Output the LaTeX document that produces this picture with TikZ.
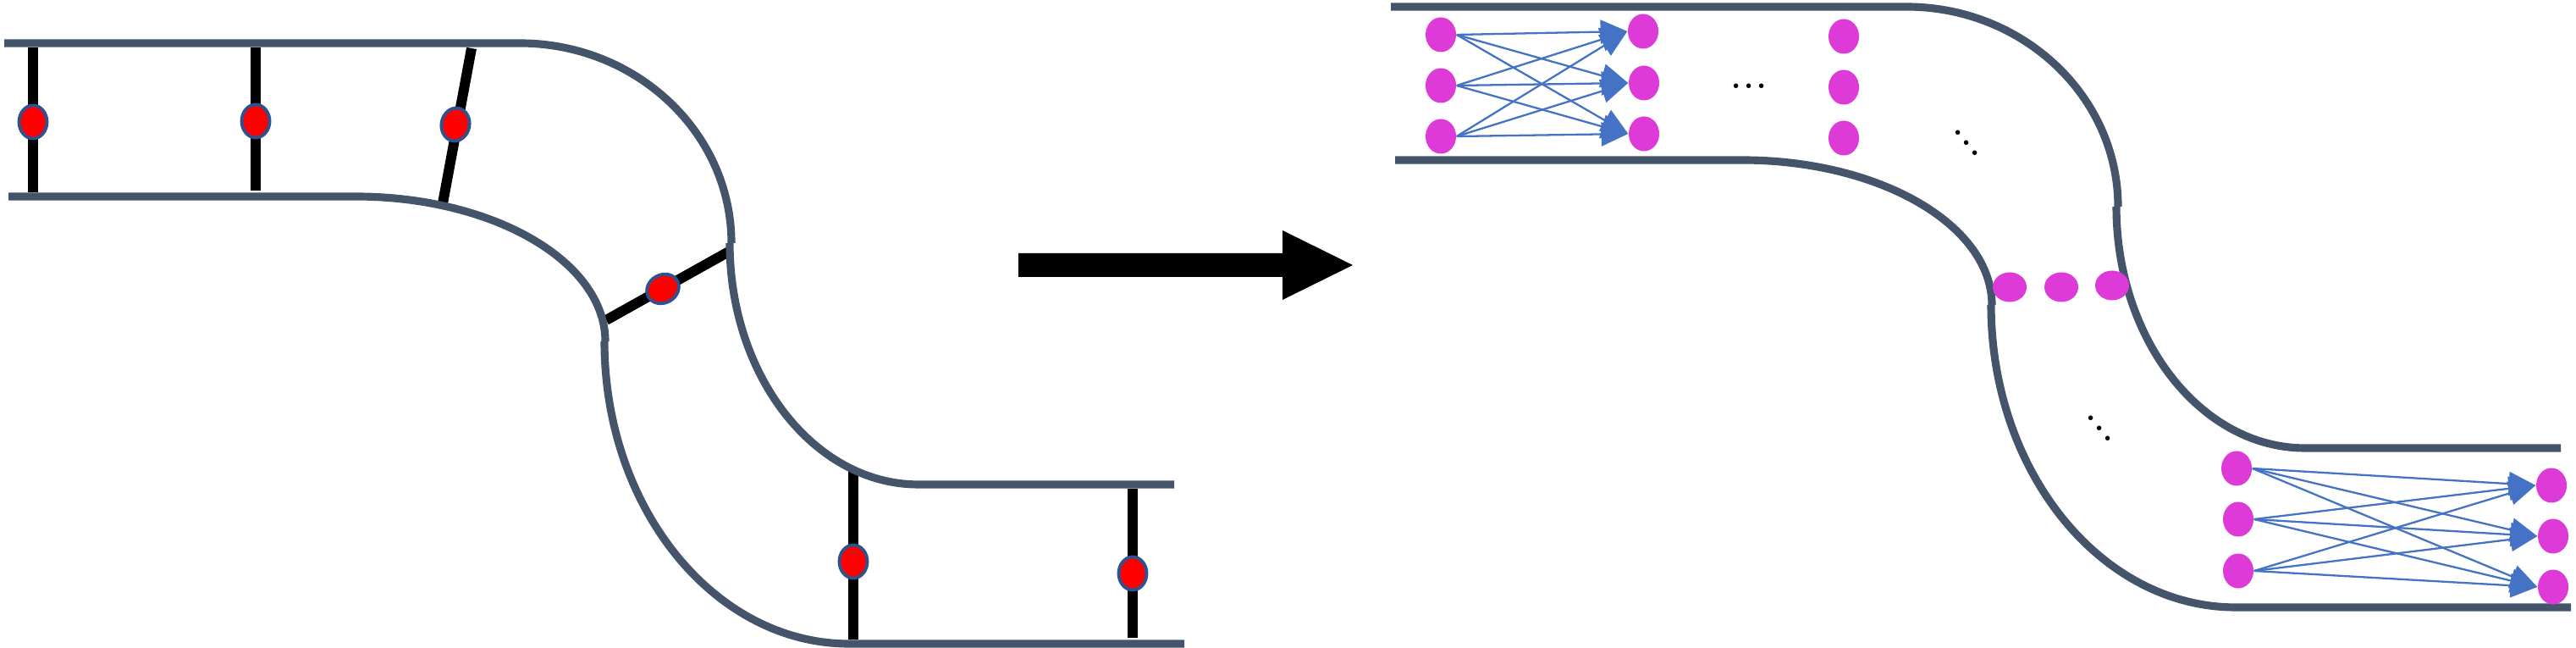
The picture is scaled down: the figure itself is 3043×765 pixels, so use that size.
\documentclass[tikz,border=0pt]{standalone}
\usetikzlibrary{arrows.meta,shapes.geometric}
\definecolor{slate}{HTML}{44546A}
\definecolor{rimblue}{HTML}{2F528F}
\definecolor{netblue}{HTML}{4472C4}
\definecolor{dotpink}{HTML}{DD3AD8}
\newcommand\drawchannel{%
  \draw[wall] (5,51) -- (614,51) .. controls (752,51) and (864,157) .. (864,287);
  \draw[wall] (862,287) .. controls (862,444) and (962,572) .. (1085,572) -- (1387,572);
  \draw[wall] (10,232) -- (420,232) .. controls (583,232) and (715,309) .. (715,403);
  \draw[wall] (714,403) .. controls (714,600) and (844,760) .. (1003,760) -- (1399,760);
}
\newcommand\hdotsrow{\bfseries .\kern1.17pt.\kern1.17pt.}
\newcommand\ddotsrow{\bfseries .\kern-0.43pt\raisebox{-3.4pt}{.}\kern-0.43pt\raisebox{-6.8pt}{.}}
\begin{document}
\begin{tikzpicture}[x=0.01cm,y=-0.01cm,
  wall/.style={draw=slate,line width=2.6pt,line cap=butt},
  bar/.style={draw=black,line width=3.4pt,line cap=butt},
  redpin/.style={ellipse,fill=red,draw=rimblue,line width=1.1pt,minimum width=0.33cm,minimum height=0.39cm,inner sep=0pt},
  pinkdot/.style={ellipse,fill=dotpink,draw=none,minimum width=0.36cm,minimum height=0.41cm,inner sep=0pt},
  pinkwide/.style={ellipse,fill=dotpink,draw=none,minimum width=0.40cm,minimum height=0.35cm,inner sep=0pt},
  netarrow/.style={draw=netblue,line width=0.65pt,-{Triangle[length=9pt,width=8pt]}},
  dotstext/.style={anchor=center,inner sep=0pt,text=black}]
\useasboundingbox (0,0) rectangle (3043,765);

% ---------- left figure: bars ----------
\coordinate (p1t) at (39,56);   \coordinate (p1b) at (39,227);
\coordinate (p2t) at (302,56);  \coordinate (p2b) at (302,225);
\coordinate (p3t) at (557,57);  \coordinate (p3b) at (523,240);
\coordinate (p4a) at (716,378); \coordinate (p4b) at (861,297);
\coordinate (p5t) at (1008,552);\coordinate (p5b) at (1008,755);
\coordinate (p6t) at (1338,577);\coordinate (p6b) at (1338,753);
\draw[bar] (p1t) -- (p1b);
\draw[bar] (p2t) -- (p2b);
\draw[bar] (p3t) -- (p3b);
\draw[bar] (p4a) -- (p4b);
\draw[bar] (p5t) -- (p5b);
\draw[bar] (p6t) -- (p6b);

% ---------- left figure: channel ----------
\drawchannel

% ---------- left figure: pins ----------
\node[redpin] (r1) at (39,144) {};
\node[redpin] (r2) at (302,143) {};
\node[redpin,rotate=-10.5] (r3) at (538,147) {};
\node[redpin,rotate=-61] (r4) at (783,341) {};
\node[redpin] (r5) at (1008,663) {};
\node[redpin] (r6) at (1338,677) {};

% ---------- big arrow ----------
\fill[black] (1203,299) -- (1515,299) -- (1515,272) -- (1598,313) -- (1515,354) -- (1515,327) -- (1203,327) -- cycle;

% ---------- right figure: channel ----------
\begin{scope}[shift={(1638,-43)}]
\drawchannel
\end{scope}

% ---------- right figure: top network ----------
\node[pinkdot] (a1) at (1702,41) {};
\node[pinkdot] (a2) at (1702,101) {};
\node[pinkdot] (a3) at (1702,161) {};
\node[pinkdot] (b1) at (1941,37) {};
\node[pinkdot] (b2) at (1942,98) {};
\node[pinkdot] (b3) at (1942,158) {};
\node[pinkdot] (c1) at (2178,43) {};
\node[pinkdot] (c2) at (2178,103) {};
\node[pinkdot] (c3) at (2178,163) {};
\foreach \s in {1,2,3}{\foreach \t in {1,2,3}{\draw[netarrow] (a\s.east) -- (b\t.west);}}
\node[dotstext] (hd) at (2066,102) {\hdotsrow};
\node[dotstext] (dd1) at (2323,169) {\ddotsrow};

% ---------- right figure: middle row ----------
\node[pinkwide] (m1) at (2374,339) {};
\node[pinkwide] (m2) at (2435,339) {};
\node[pinkwide] (m3) at (2495,337) {};
\node[dotstext] (dd2) at (2480,506) {\ddotsrow};

% ---------- right figure: bottom network ----------
\node[pinkdot] (d1) at (2642,553) {};
\node[pinkdot] (d2) at (2644,613) {};
\node[pinkdot] (d3) at (2644,674) {};
\node[pinkdot] (e1) at (3014,573) {};
\node[pinkdot] (e2) at (3016,633) {};
\node[pinkdot] (e3) at (3016,693) {};
\foreach \s in {1,2,3}{\foreach \t in {1,2,3}{\draw[netarrow] (d\s.east) -- (e\t.west);}}
\end{tikzpicture}
\end{document}
